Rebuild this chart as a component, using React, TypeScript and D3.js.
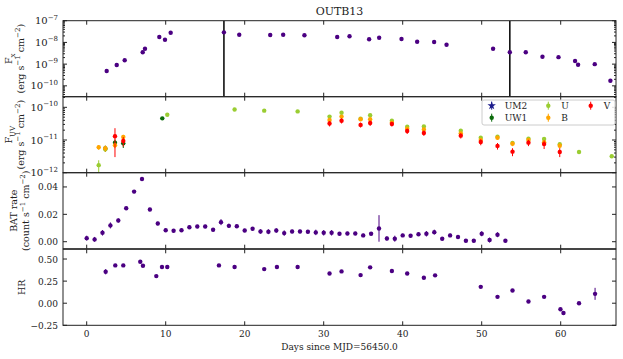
import React from "react";
import * as d3 from "d3";

const W = 623;
const H = 359;
const LEFT = 63;
const RIGHT = 616;
const PANEL_TOP = [20.7, 96.7, 172.7, 249.3];
const PANEL_H = 76;
const FONT = "DejaVu Serif, serif";
const PURPLE = "#4b0082";

// X-ray flux (erg s-1 cm-2)
const fxDays = [2.53, 3.8, 4.81, 7.09, 7.38, 9.19, 9.91, 10.63, 17.37, 19.31, 23.23, 24.87, 27.56, 31.71, 33.27, 35.75, 37.02, 39.85, 41.83, 43.98, 45.55, 51.44, 53.56, 55.58, 57.69, 59.72, 61.82, 62.2, 64.31, 66.29];
const fxFlux = [4.8e-10, 9.1e-10, 1.5e-9, 3.5e-9, 5.1e-9, 1.77e-8, 1.33e-8, 2.8e-8, 2.9e-8, 2.26e-8, 2.2e-8, 2.26e-8, 2.15e-8, 1.77e-8, 1.91e-8, 1.39e-8, 1.65e-8, 1.44e-8, 1.08e-8, 1.04e-8, 7.8e-9, 5.1e-9, 3.5e-9, 3.5e-9, 2.2e-9, 2.1e-9, 1.39e-9, 9.4e-10, 1.0e-9, 1.72e-10];
const fxMarkLines = [17.37, 53.56];

// UV fluxes per filter
const um2Days: number[] = [];
const um2Flux: number[] = [];
const um2Err: number[] = [];
const uw1Days = [2.36, 3.58, 4.63, 9.57];
const uw1Flux = [5.5e-12, 8.3e-12, 7.9e-12, 4.6e-11];
const uw1Err = [1.2e-12, 2.0e-12, 2.2e-12, 3e-12];
const uDays = [1.52, 2.36, 10.2, 18.72, 22.47, 26.7, 30.74, 32.26, 34.67, 35.88, 38.63, 40.57, 42.68, 47.35, 49.88, 52.0, 53.9, 55.92, 57.9, 59.88, 62.32, 66.46];
const uFlux = [1.7e-12, 5.2e-12, 5.9e-11, 8.6e-11, 7.9e-11, 7.5e-11, 5.2e-11, 6.8e-11, 4.5e-11, 5.7e-11, 3.9e-11, 2.55e-11, 2.6e-11, 1.92e-11, 1.17e-11, 1.26e-11, 8.1e-12, 1.1e-11, 1.07e-11, 7.4e-12, 4.3e-12, 3.2e-12];
const uErr = [0.7e-12, 0.8e-12, 3e-12, 4e-12, 4e-12, 4e-12, 4e-12, 5e-12, 3e-12, 4e-12, 3e-12, 2e-12, 2e-12, 1.5e-12, 1e-12, 1e-12, 0.8e-12, 1e-12, 1e-12, 0.8e-12, 0.4e-12, 0.3e-12];
const bDays = [1.52, 2.36, 3.58, 4.63, 30.74, 32.26, 34.67, 35.88, 38.63, 40.57, 42.68, 47.35, 49.88, 52.0, 53.9, 55.92, 57.9, 59.88];
const bFlux = [6.0e-12, 5.6e-12, 6.9e-12, 1.24e-11, 4.1e-11, 5.2e-11, 4.3e-11, 4.3e-11, 3.4e-11, 2.2e-11, 2.1e-11, 1.6e-11, 1.0e-11, 1.17e-11, 7.7e-12, 1.0e-11, 8.5e-12, 6.7e-12];
const bErr = [1.0e-12, 1.2e-12, 1.3e-12, 2.0e-12, 5e-12, 6e-12, 5e-12, 5e-12, 4e-12, 3e-12, 3e-12, 2e-12, 1.5e-12, 1.5e-12, 1.2e-12, 1.5e-12, 1.5e-12, 1.2e-12];
const vDays = [3.58, 4.63, 30.74, 32.26, 34.67, 35.88, 38.63, 40.57, 42.68, 47.35, 49.88, 52.0, 53.9, 55.92, 57.9, 59.88];
const vFlux = [1.3e-11, 9.3e-12, 3.2e-11, 3.9e-11, 2.9e-11, 3.3e-11, 3.1e-11, 1.88e-11, 1.64e-11, 1.36e-11, 8.7e-12, 6.6e-12, 4.4e-12, 8.3e-12, 7.5e-12, 4.3e-12];
const vErr = [1.0e-11, 3e-12, 6e-12, 7e-12, 5e-12, 6e-12, 5e-12, 3.5e-12, 3e-12, 2.5e-12, 1.8e-12, 1.5e-12, 1.2e-12, 1.8e-12, 2.2e-12, 1.3e-12];

// BAT rate (count s-1 cm-2), one per day
const batDays = d3.range(0, 54);
const batRate = [0.0026, 0.0017, 0.0065, 0.0119, 0.0155, 0.0244, 0.0366, 0.0458, 0.0235, 0.0133, 0.0084, 0.008, 0.0084, 0.0106, 0.0111, 0.0111, 0.0087, 0.0143, 0.0116, 0.0113, 0.0082, 0.0095, 0.0075, 0.0073, 0.0082, 0.0063, 0.0075, 0.0075, 0.0073, 0.0068, 0.0065, 0.0065, 0.0058, 0.006, 0.006, 0.0046, 0.0058, 0.0097, 0.0024, 0.0022, 0.0046, 0.0044, 0.0055, 0.0058, 0.007, 0.0022, 0.0046, 0.0034, 0.0007, 0.0007, 0.0058, 0.0012, 0.0051, 0.0007];
const batErr = [0.0018, 0.0018, 0.002, 0.0022, 0.0015, 0.0012, 0.0012, 0.0012, 0.0012, 0.0013, 0.0012, 0.0012, 0.0013, 0.0012, 0.0012, 0.0012, 0.0012, 0.0022, 0.0016, 0.0013, 0.0012, 0.0012, 0.0016, 0.0018, 0.0016, 0.002, 0.0013, 0.0013, 0.0013, 0.002, 0.002, 0.002, 0.0012, 0.0012, 0.0012, 0.0013, 0.0012, 0.0097, 0.0015, 0.0022, 0.0012, 0.0012, 0.0013, 0.002, 0.0018, 0.0012, 0.0013, 0.0012, 0.0012, 0.0012, 0.0018, 0.0018, 0.0018, 0.0012];

// hardness ratio
const hrDays = [2.4, 3.62, 4.63, 6.78, 7.12, 8.81, 9.53, 10.2, 16.74, 18.72, 22.47, 24.08, 26.7, 30.74, 32.26, 34.67, 35.88, 38.63, 40.57, 42.68, 44.1, 49.88, 52.0, 53.9, 55.92, 57.9, 59.97, 60.35, 62.32, 64.35];
const hrVal = [0.356, 0.428, 0.428, 0.469, 0.424, 0.307, 0.409, 0.409, 0.428, 0.409, 0.386, 0.409, 0.409, 0.337, 0.36, 0.318, 0.406, 0.364, 0.337, 0.288, 0.315, 0.185, 0.072, 0.144, 0.019, 0.072, -0.068, -0.11, 0.0, 0.106];
const hrErr = [0.03, 0.01, 0.01, 0.01, 0.01, 0.01, 0.01, 0.01, 0.01, 0.01, 0.01, 0.01, 0.01, 0.01, 0.01, 0.01, 0.01, 0.01, 0.01, 0.01, 0.01, 0.01, 0.01, 0.01, 0.01, 0.01, 0.01, 0.01, 0.01, 0.068];

const xTicks = [0, 10, 20, 30, 40, 50, 60];
const batTicks = [0, 0.02, 0.04];
const hrTicks = [0.5, 0.25, 0, -0.25];
const fxTicks = [1e-7, 1e-8, 1e-9, 1e-10];
const uvTicks = [1e-10, 1e-11, 1e-12];

const x = d3.scaleLinear().domain([-3, 67]).range([LEFT, RIGHT]);
const yFx = d3.scaleLog().domain([10 ** -10.5, 1e-7]).range([PANEL_TOP[0] + PANEL_H, PANEL_TOP[0]]);
const yUv = d3.scaleLog().domain([1e-12, 10 ** -9.675]).range([PANEL_TOP[1] + PANEL_H, PANEL_TOP[1]]);
const yBat = d3.scaleLinear().domain([-0.0051, 0.0504]).range([PANEL_TOP[2] + PANEL_H, PANEL_TOP[2]]);
const yHr = d3.scaleLinear().domain([-0.25, 0.61]).range([PANEL_TOP[3] + PANEL_H, PANEL_TOP[3]]);

function Sup({ base, exp }: { base: string; exp: string }) {
  return (
    <>
      <tspan>{base}</tspan>
      <tspan dy={-4.5} fontSize={7}>{exp}</tspan>
    </>
  );
}

function Frame({ i, y, ticks, fmt, log }: { i: number; y: any; ticks: number[]; fmt?: (v: number) => string; log?: boolean }) {
  const top = PANEL_TOP[i];
  const bot = top + PANEL_H;
  const minors: number[] = [];
  if (log) {
    const [lo, hi] = y.domain();
    for (let e = Math.floor(Math.log10(lo)); e <= Math.ceil(Math.log10(hi)); e++) {
      for (let m = 2; m <= 9; m++) {
        const v = m * 10 ** e;
        if (v >= lo && v <= hi) minors.push(v);
      }
    }
  }
  return (
    <g>
      <rect x={LEFT} y={top} width={RIGHT - LEFT} height={PANEL_H} fill="none" stroke="#222" strokeWidth={1} />
      {xTicks.map((t) => (
        <g key={"x" + t}>
          <line x1={x(t)} x2={x(t)} y1={top} y2={top + 4} stroke="#222" />
          <line x1={x(t)} x2={x(t)} y1={bot} y2={bot - 4} stroke="#222" />
        </g>
      ))}
      {ticks.map((t) => (
        <g key={"y" + t}>
          <line x1={LEFT} x2={LEFT + 4} y1={y(t)} y2={y(t)} stroke="#222" />
          <line x1={RIGHT} x2={RIGHT - 4} y1={y(t)} y2={y(t)} stroke="#222" />
          <text x={LEFT - 5} y={y(t) + 3.5} textAnchor="end" fontSize={log ? 10 : 9} fill="#222">
            {log ? <Sup base="10" exp={"\u2212" + Math.round(-Math.log10(t))} /> : fmt!(t)}
          </text>
        </g>
      ))}
      {minors.map((t) => (
        <g key={"m" + t}>
          <line x1={LEFT} x2={LEFT + 2} y1={y(t)} y2={y(t)} stroke="#222" />
          <line x1={RIGHT} x2={RIGHT - 2} y1={y(t)} y2={y(t)} stroke="#222" />
        </g>
      ))}
    </g>
  );
}

function ErrPoints({ days, vals, errs, y, color, clip, r = 2.2 }: any) {
  return (
    <g clipPath={clip}>
      {days.map((d: number, k: number) => {
        const e = errs ? errs[k] : 0;
        const lo = y.domain()[0] > 0 ? Math.max(vals[k] - e, y.domain()[0]) : vals[k] - e;
        return (
          <g key={k}>
            {e > 0 && <line x1={x(d)} x2={x(d)} y1={y(lo)} y2={y(vals[k] + e)} stroke={color} strokeWidth={1} />}
            <circle cx={x(d)} cy={y(vals[k])} r={r} fill={color} />
          </g>
        );
      })}
    </g>
  );
}

const uvSeries = [
  { name: "UM2", days: um2Days, vals: um2Flux, errs: um2Err, color: "#1c1c8c" },
  { name: "UW1", days: uw1Days, vals: uw1Flux, errs: uw1Err, color: "#0b6b0b" },
  { name: "U", days: uDays, vals: uFlux, errs: uErr, color: "#9acd32" },
  { name: "B", days: bDays, vals: bFlux, errs: bErr, color: "#ffa500" },
  { name: "V", days: vDays, vals: vFlux, errs: vErr, color: "#ff0000" },
];

function Legend() {
  const pos = [
    [491.7, 105.7],
    [491.7, 117.7],
    [548.3, 105.7],
    [548.3, 117.7],
    [590.7, 105.7],
  ];
  const star = d3.symbol(d3.symbolStar, 22)()!;
  return (
    <g>
      <rect x={482} y={100} width={133} height={25} rx={2} fill="white" fillOpacity={0.85} stroke="#ccc" />
      {uvSeries.map((s, k) => {
        const [px, py] = pos[k];
        return (
          <g key={s.name}>
            <line x1={px} x2={px} y1={py - 4} y2={py + 4} stroke={s.color} />
            {s.name === "UM2" ? (
              <path d={star} transform={`translate(${px},${py})`} fill={s.color} />
            ) : (
              <circle cx={px} cy={py} r={2.2} fill={s.color} />
            )}
            <text x={px + 13} y={py + 3.5} fontSize={9} fill="#222">{s.name}</text>
          </g>
        );
      })}
    </g>
  );
}

function YLabel({ cx, cy, children }: any) {
  return (
    <text transform={`translate(${cx},${cy}) rotate(-90)`} textAnchor="middle" fontSize={9.5} fill="#222">
      {children}
    </text>
  );
}

function Units({ first }: { first: string }) {
  return (
    <>
      <tspan>{"(" + first + " s"}</tspan>
      <tspan dy={-4} fontSize={7}>{"\u22121"}</tspan>
      <tspan dy={4}>{" cm"}</tspan>
      <tspan dy={-4} fontSize={7}>{"\u22122"}</tspan>
      <tspan dy={4}>{")"}</tspan>
    </>
  );
}

export default function App() {
  const mid = (i: number) => PANEL_TOP[i] + PANEL_H / 2;
  return (
    <div style={{ position: "absolute", left: 0, top: 0 }}>
      <svg width={W} height={H} style={{ display: "block", fontFamily: FONT, background: "white" }}>
        <defs>
          {PANEL_TOP.map((t, i) => (
            <clipPath id={"clip" + i} key={i}>
              <rect x={LEFT} y={t} width={RIGHT - LEFT} height={PANEL_H} />
            </clipPath>
          ))}
        </defs>
        <text x={(LEFT + RIGHT) / 2} y={15} textAnchor="middle" fontSize={11} fill="#222">OUTB13</text>

        {/* panel 1: X-ray flux */}
        <g clipPath="url(#clip0)">
          {fxMarkLines.map((d) => (
            <line key={d} x1={x(d)} x2={x(d)} y1={PANEL_TOP[0]} y2={PANEL_TOP[0] + PANEL_H} stroke="#111" strokeWidth={1.6} />
          ))}
        </g>
        <ErrPoints days={fxDays} vals={fxFlux} y={yFx} color={PURPLE} clip="url(#clip0)" />
        <Frame i={0} y={yFx} ticks={fxTicks} log />

        {/* panel 2: UV flux */}
        {uvSeries.map((s) => (
          <ErrPoints key={s.name} days={s.days} vals={s.vals} errs={s.errs} y={yUv} color={s.color} clip="url(#clip1)" />
        ))}
        <Frame i={1} y={yUv} ticks={uvTicks} log />
        <Legend />

        {/* panel 3: BAT rate */}
        <ErrPoints days={batDays} vals={batRate} errs={batErr} y={yBat} color={PURPLE} clip="url(#clip2)" />
        <Frame i={2} y={yBat} ticks={batTicks} fmt={(v) => v.toFixed(2)} />

        {/* panel 4: hardness ratio */}
        <ErrPoints days={hrDays} vals={hrVal} errs={hrErr} y={yHr} color={PURPLE} clip="url(#clip3)" />
        <Frame i={3} y={yHr} ticks={hrTicks} fmt={(v) => (v < 0 ? "\u2212" : "") + Math.abs(v).toFixed(2)} />

        {xTicks.map((t) => (
          <text key={t} x={x(t)} y={PANEL_TOP[3] + PANEL_H + 12} textAnchor="middle" fontSize={9} fill="#222">{t}</text>
        ))}
        <text x={(LEFT + RIGHT) / 2} y={350} textAnchor="middle" fontSize={9} fill="#222">Days since MJD=56450.0</text>

        <YLabel cx={12} cy={mid(0)}>
          <tspan>F</tspan>
          <tspan dy={2.5} fontSize={7}>x</tspan>
        </YLabel>
        <YLabel cx={24} cy={mid(0)}><Units first="erg" /></YLabel>
        <YLabel cx={12} cy={mid(1)}>
          <tspan>F</tspan>
          <tspan dy={2.5} fontSize={7}>UV</tspan>
        </YLabel>
        <YLabel cx={24} cy={mid(1)}><Units first="erg" /></YLabel>
        <YLabel cx={17} cy={mid(2)}>BAT rate</YLabel>
        <YLabel cx={29} cy={mid(2)}><Units first="count" /></YLabel>
        <YLabel cx={25} cy={mid(3)}>HR</YLabel>
      </svg>
    </div>
  );
}
